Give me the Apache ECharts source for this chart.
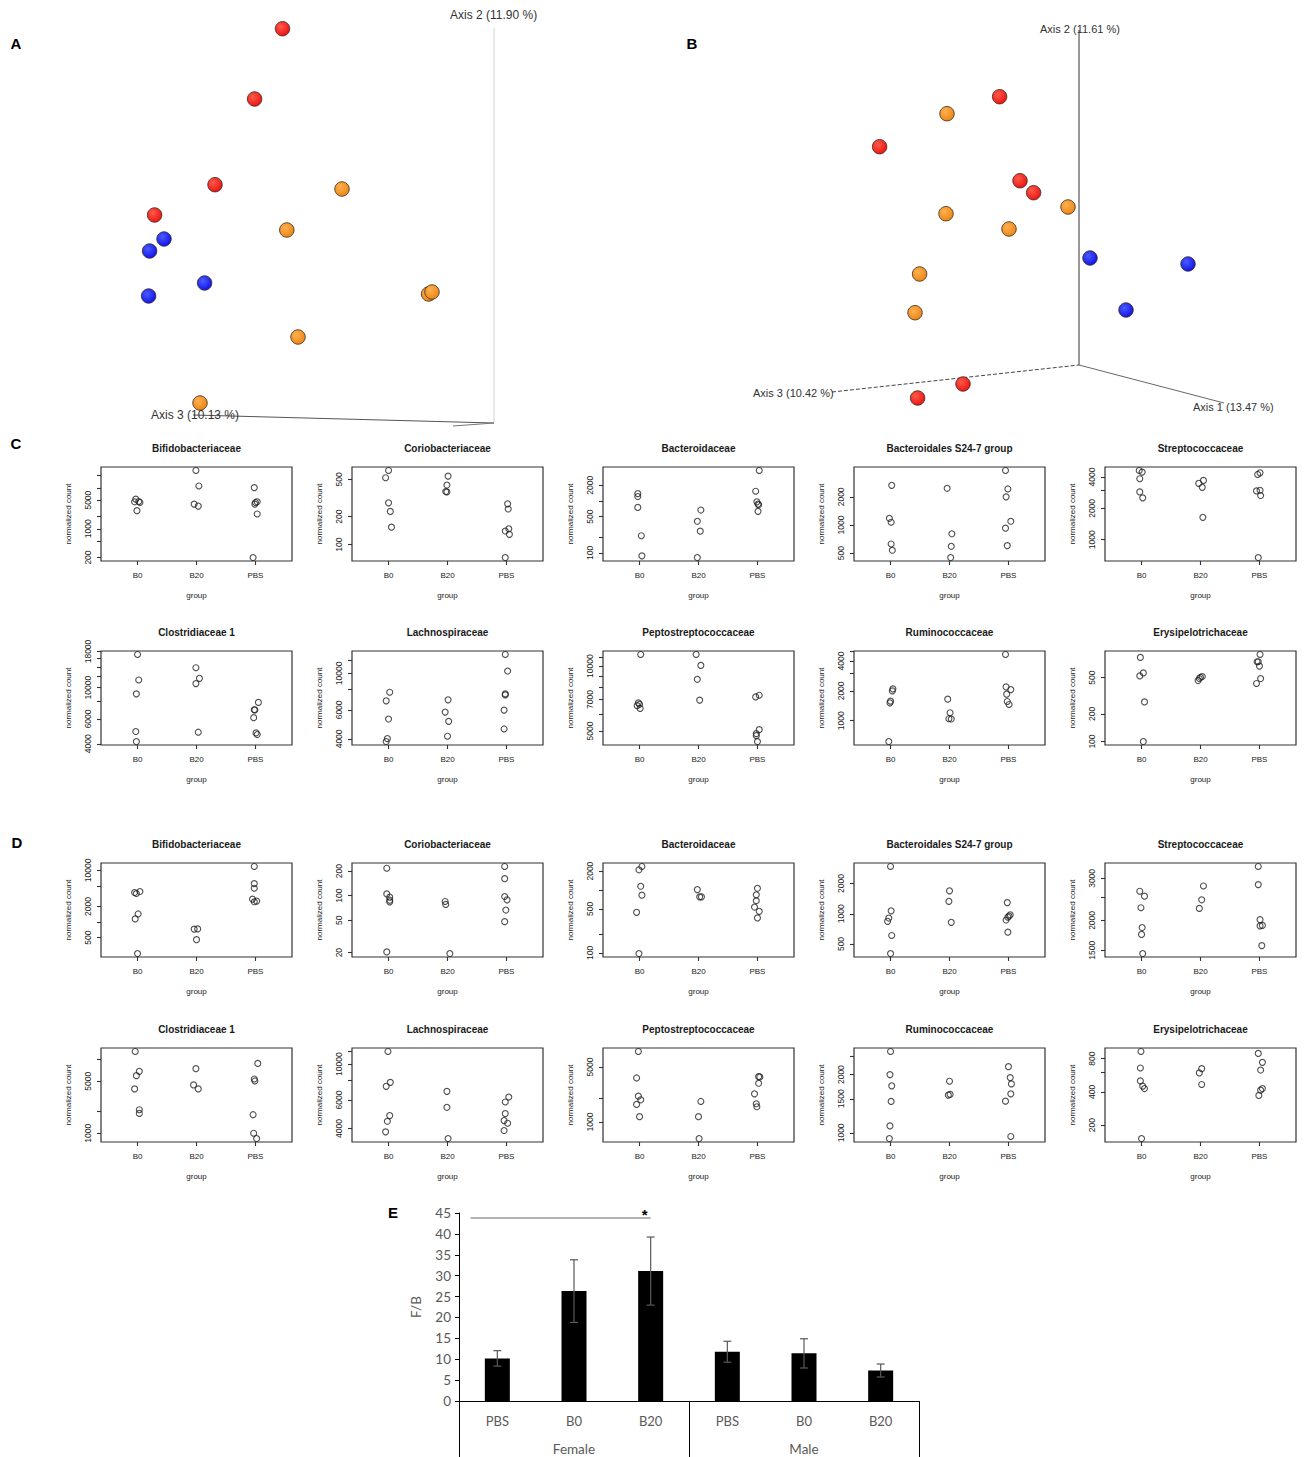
<!DOCTYPE html>
<html><head><meta charset="utf-8">
<script src="https://cdn.jsdelivr.net/npm/echarts@6.0.0/dist/echarts.min.js"></script>
<style>html,body{margin:0;padding:0;background:#fff}#c{width:1306px;height:1457px}</style>
</head><body><div id="c"></div>
<script>
// ---------- Panel A / B : PCoA 3D views (projected screen units of each view) ----------
const A_red    = [[282.5,28.7],[254.6,99],[215,184.7],[154.6,215]];
const A_blue   = [[164,239],[149.6,251],[204.6,283],[148.6,296]];
const A_orange = [[342,189],[286.8,230],[428.6,294],[432,292],[298,337],[200,403]];
const A_axis2  = [[494,28],[494,423]];
const A_axis3  = [[193,415],[494,423]];
const A_axis1  = [[453,426],[494,423]];
const A_axisLabels = ['Axis 2 (11.90 %)','Axis 3 (10.13 %)'];

const B_red    = [[319.6,96.7],[199.6,146.7],[340,180.7],[353.6,192.7],[283,384],[237.6,398]];
const B_orange = [[267,113.7],[266,213.7],[329,229],[388,207],[239.6,274],[235,312.7]];
const B_blue   = [[410,258],[508,264],[446,310]];
const B_axis2  = [[399,30],[399,365]];
const B_axis3  = [[152,392],[399,365]];
const B_axis1  = [[399,365],[544,403]];
const B_axisLabels = ['Axis 2 (11.61 %)','Axis 3 (10.42 %)','Axis 1 (13.47 %)'];

// ---------- Panels C / D : normalized counts, [jittered group position, count] ----------
const GROUPS = ['B0','B20','PBS'];
const FAMILIES = ['Bifidobacteriaceae','Coriobacteriaceae','Bacteroidaceae','Bacteroidales S24-7 group','Streptococcaceae',
                  'Clostridiaceae 1','Lachnospiraceae','Peptostreptococcaceae','Ruminococcaceae','Erysipelotrichaceae'];

const C1_pts = [[0.97,5280],[1.04,4390],[0.95,4560],[1.02,4640],[0.99,2770],[1.99,26400],[2.04,11070],[1.96,4000],[2.03,3580],[2.98,10100],[3.00,4390],[3.03,4560],[2.99,4000],[3.03,2300],[2.96,200]];
const C1_ticks = [200,500,1000,2000,5000,10000,20000], C1_labels = [200,1000,5000];
const C2_pts = [[1.0,624],[0.95,522],[1.0,281],[1.03,227],[1.05,154],[2.01,543],[1.99,436],[1.97,371],[1.99,368],[3.02,274],[3.03,241],[3.04,148],[2.98,140],[3.05,129],[2.98,72.8]];
const C2_ticks = [100,200,500], C2_labels = [100,200,500];
const C3_pts = [[0.97,1387],[0.97,1216],[0.97,751],[1.03,214],[1.04,87.7],[2.04,668],[1.98,406],[2.03,262],[1.98,81.5],[3.03,3857],[2.97,1537],[2.99,962],[3.02,844],[3.01,870],[3.01,630]];
const C3_ticks = [100,200,500,1000,2000], C3_labels = [100,500,2000];
const C4_pts = [[1.02,2657],[0.98,1181],[1.01,1072],[1.01,628],[1.03,538],[1.96,2470],[2.04,807],[2.03,593],[2.02,450],[2.95,3828],[2.99,2430],[2.96,2000],[3.04,1098],[2.95,926],[2.98,603]];
const C4_ticks = [500,1000,2000], C4_labels = [500,1000,2000];
const C5_pts = [[0.96,4630],[1.01,4465],[0.97,3856],[0.97,2880],[1.02,2525],[1.97,3483],[2.05,3717],[2.03,3190],[2.04,1642],[2.97,4240],[3.01,4395],[2.95,2944],[3.01,2987],[3.02,2660],[2.98,674]];
const C5_ticks = [1000,2000,3000,4000], C5_labels = [1000,2000,4000];
const C6_pts = [[1.0,17150],[1.02,11320],[0.98,9025],[0.97,4885],[0.98,4150],[1.99,13820],[2.05,11630],[1.99,10670],[2.03,4830],[3.05,7850],[2.98,6970],[2.99,6950],[2.97,6120],[3.01,4777],[3.03,4650]];
const C6_ticks = [4000,6000,8000,10000,12000,14000,16000,18000], C6_labels = [4000,6000,10000,18000];
const C7_pts = [[1.02,7680],[0.96,6810],[1.0,5280],[0.98,4018],[0.96,3855],[2.01,6905],[1.96,5820],[2.02,5110],[2.0,4150],[2.98,13020],[3.02,10330],[2.98,7505],[2.98,7400],[2.96,5980],[2.96,4595]];
const C7_ticks = [4000,6000,8000,10000,12000], C7_labels = [4000,6000,10000];
const C8_pts = [[1.02,11320],[0.98,6750],[1.0,6650],[0.96,6550],[1.01,6360],[1.96,11320],[2.04,10070],[1.98,8683],[2.02,6950],[2.97,7195],[3.03,7322],[3.03,5070],[2.98,4860],[2.98,4755],[3.0,4465]];
const C8_ticks = [5000,6000,7000,8000,9000,10000,11000], C8_labels = [5000,7000,10000];
const C9_pts = [[1.04,2094],[1.03,2000],[1.0,1576],[0.99,1515],[0.97,616],[1.97,1650],[2.01,1203],[1.99,1047],[2.03,1040],[2.95,4665],[2.96,2193],[3.04,2063],[2.97,1853],[2.98,1563],[3.01,1458]];
const C9_ticks = [1000,2000,3000,4000,5000], C9_labels = [1000,2000,4000];
const C10_pts = [[0.98,830],[1.03,562],[0.97,521],[1.05,271],[1.03,100],[1.96,464],[1.98,488],[2.0,504],[2.03,513],[3.01,894],[2.96,745],[2.98,745],[3.0,668],[3.02,488],[2.95,431]];
const C10_ticks = [100,200,500], C10_labels = [100,200,500];

const D1_pts = [[0.98,3580],[1.04,3908],[0.95,3740],[1.01,1439],[0.96,1155],[1.0,247],[1.96,733],[2.02,740],[2.0,458],[2.98,11930],[2.98,5560],[2.98,4525],[2.95,2787],[2.98,2478],[3.02,2552]];
const D1_ticks = [500,1000,2000,5000,10000], D1_labels = [500,2000,10000];
const D2_pts = [[0.97,217],[0.97,105],[1.02,95.8],[1.02,88],[1.02,84],[0.97,20.4],[1.96,84.8],[1.97,78],[2.04,19.5],[2.97,228],[2.97,161.5],[2.97,97.6],[3.01,88.9],[2.99,66.6],[2.97,48]];
const D2_ticks = [20,50,100,200], D2_labels = [20,50,100,200];
const D3_pts = [[1.04,2370],[0.99,2099],[1.02,1148],[1.04,828],[0.95,442],[0.99,97.6],[1.98,1017],[2.02,780],[2.05,780],[3.0,1067],[2.98,838],[2.98,675],[2.95,536],[3.03,458],[3.0,360]];
const D3_ticks = [100,200,500,1000,2000], D3_labels = [100,500,2000];
const D4_pts = [[1.0,2960],[1.01,1070],[0.97,907],[0.95,841],[1.02,608],[1.0,402],[2.0,1694],[1.99,1331],[2.03,822],[2.98,1292],[3.03,978],[3.01,949],[2.99,925],[2.96,867],[2.99,656]];
const D4_ticks = [500,1000,2000], D4_labels = [500,1000,2000];
const D5_pts = [[0.97,2650],[1.05,2527],[0.99,2260],[1.01,1867],[1.0,1747],[1.02,1453],[2.05,2788],[2.02,2440],[1.98,2246],[2.98,3365],[2.98,2825],[3.01,2015],[3.01,1898],[3.05,1905],[3.04,1568]];
const D5_ticks = [1500,2000,2500,3000], D5_labels = [1500,2000,3000];
const D6_pts = [[0.96,12585],[1.03,6801],[0.98,5953],[0.95,3950],[1.03,2071],[1.03,1850],[1.99,7385],[1.95,4467],[2.03,3950],[3.04,8697],[2.98,5372],[2.99,5050],[2.96,1775],[2.97,1000],[3.02,849]];
const D6_ticks = [1000,2000,5000,10000], D6_labels = [1000,5000];
const D7_pts = [[0.99,11970],[1.03,7715],[0.96,7290],[1.02,4809],[0.98,4436],[0.95,3816],[1.99,6788],[1.99,5412],[2.01,3471],[3.04,6265],[2.98,5836],[2.98,4950],[2.96,4480],[3.02,4314],[2.96,3890]];
const D7_ticks = [4000,6000,8000,10000,12000], D7_labels = [4000,6000,10000];
const D8_pts = [[0.98,7886],[0.95,3631],[0.98,2130],[1.02,1915],[0.95,1672],[1.0,1168],[2.04,1824],[2.0,1168],[2.01,616],[3.02,3775],[3.04,3740],[3.02,3109],[2.95,2280],[2.98,1705],[2.99,1562]];
const D8_ticks = [1000,2000,5000], D8_labels = [1000,5000];
const D9_pts = [[1.0,2634],[0.99,2000],[1.02,1750],[1.01,1454],[0.99,1086],[0.98,935],[2.0,1849],[1.98,1567],[2.01,1580],[3.0,2198],[3.03,1930],[3.05,1791],[3.04,1591],[2.95,1459],[3.04,958]];
const D9_ticks = [1000,1500,2000,2500], D9_labels = [1000,1500,2000];
const D10_pts = [[0.99,927],[0.98,657],[0.98,502],[1.02,450],[1.05,428],[1.0,151],[2.02,648],[1.98,593],[2.02,466],[2.98,890],[3.05,739],[3.02,630],[3.05,428],[3.02,414],[2.99,371]];
const D10_ticks = [200,400,600,800], D10_labels = [200,400,800];

// ---------- Panel E : F/B ratio ----------
const E_categories = ['PBS','B0','B20','PBS','B0','B20'];
const E_groups = ['Female','Male'];
const E_mean = [10.2, 26.3, 31.1, 11.8, 11.4, 7.3];
const E_err  = [1.85, 7.5, 8.15, 2.5, 3.5, 1.55];
const E_sigSpan = [0, 2];
const E_sigY = 43.8;
const E_yTicks = [0, 45, 5]; // min, max, interval

// ---------- layout ----------
const FONT = 'Liberation Sans';
const ROW_TOP = [467, 651, 863, 1048];
const COL_LEFT = [101, 352, 603, 854, 1105];
const BOX_W = 191, BOX_H = 94;
const TXT = '#1a1a1a';

const PANELS = [
  [C1_pts,C1_ticks,C1_labels],[C2_pts,C2_ticks,C2_labels],[C3_pts,C3_ticks,C3_labels],[C4_pts,C4_ticks,C4_labels],[C5_pts,C5_ticks,C5_labels],
  [C6_pts,C6_ticks,C6_labels],[C7_pts,C7_ticks,C7_labels],[C8_pts,C8_ticks,C8_labels],[C9_pts,C9_ticks,C9_labels],[C10_pts,C10_ticks,C10_labels],
  [D1_pts,D1_ticks,D1_labels],[D2_pts,D2_ticks,D2_labels],[D3_pts,D3_ticks,D3_labels],[D4_pts,D4_ticks,D4_labels],[D5_pts,D5_ticks,D5_labels],
  [D6_pts,D6_ticks,D6_labels],[D7_pts,D7_ticks,D7_labels],[D8_pts,D8_ticks,D8_labels],[D9_pts,D9_ticks,D9_labels],[D10_pts,D10_ticks,D10_labels]
];

// R's default axis range: data range extended by 4% (in log space for log axes)
function rRange(pts){
  const ls = pts.map(p => Math.log10(p[1]));
  const lo = Math.min(...ls), hi = Math.max(...ls), r = hi - lo;
  return [Math.pow(10, lo - 0.04*r), Math.pow(10, hi + 0.04*r)];
}

const grids = [], xAxes = [], yAxes = [], series = [], gfx = [];

function ball(c1, c2){
  return {type:'radial', x:0.38, y:0.35, r:0.75, colorStops:[{offset:0,color:c1},{offset:1,color:c2}]};
}
function addPcoa(left, width, pts, lines, lineStyles){
  const gi = grids.length;
  grids.push({left:left, top:0, width:width, height:430, show:false});
  xAxes.push({gridIndex:gi, type:'value', min:0, max:width, show:false});
  yAxes.push({gridIndex:gi, type:'value', min:0, max:430, inverse:true, show:false});
  lines.forEach((l, i) => series.push({type:'line', xAxisIndex:gi, yAxisIndex:gi, data:l, symbol:'none', silent:true,
     lineStyle:lineStyles[i], z:1}));
  pts.forEach(([d, c1, c2]) => series.push({type:'scatter', xAxisIndex:gi, yAxisIndex:gi, data:d, symbolSize:14.5, silent:true, z:3,
     itemStyle:{color:ball(c1,c2), borderColor:'#3a2a20', borderWidth:0.8, opacity:1}}));
}
const RED = ['#ff5a4a','#e80c0c'], BLUE = ['#4a5cff','#0a0ae6'], ORANGE = ['#ffb050','#e8820e'];
addPcoa(0, 560, [[A_red,...RED],[A_blue,...BLUE],[A_orange,...ORANGE]],
  [A_axis2, A_axis3, A_axis1],
  [{color:'#d4d4d4', width:1}, {color:'#555', width:1}, {color:'#777', width:1}]);
addPcoa(680, 626, [[B_red,...RED],[B_blue,...BLUE],[B_orange,...ORANGE]],
  [B_axis2, B_axis3, B_axis1],
  [{color:'#333', width:1}, {color:'#444', width:1, type:[4,2]}, {color:'#666', width:1}]);

function txt(x, y, text, size, weight, align, color, family){
  gfx.push({type:'text', x:x, y:y, silent:true, z:10, style:{text:text, fontSize:size, fontWeight:weight||'normal',
    fontFamily:family||FONT, fill:color||TXT, align:align||'center', verticalAlign:'middle'}});
}
txt(450, 15, A_axisLabels[0], 12, 'normal', 'left', '#333');
txt(151, 415, A_axisLabels[1], 12, 'normal', 'left', '#333');
txt(1040, 29, B_axisLabels[0], 11, 'normal', 'left', '#333');
txt(753, 393, B_axisLabels[1], 11, 'normal', 'left', '#333');
txt(1193, 407, B_axisLabels[2], 11, 'normal', 'left', '#333');
txt(16, 43, 'A', 15, 'bold', 'center', '#000');
txt(692, 43, 'B', 15, 'bold', 'center', '#000');
txt(16, 443, 'C', 15, 'bold', 'center', '#000');
txt(17, 842, 'D', 15, 'bold', 'center', '#000');
txt(393, 1212, 'E', 15, 'bold', 'center', '#000');

PANELS.forEach((p, k) => {
  const [pts, ticks, labels] = p;
  const row = Math.floor(k / 5), col = k % 5;
  const left = COL_LEFT[col], top = ROW_TOP[row];
  const gi = grids.length;
  const rng = rRange(pts);
  grids.push({left:left, top:top, width:BOX_W, height:BOX_H, show:true, borderColor:'#333', borderWidth:1.2, backgroundColor:'rgba(0,0,0,0)'});
  xAxes.push({gridIndex:gi, type:'value', min:0.38, max:3.62,
    axisLine:{show:false}, splitLine:{show:false},
    axisTick:{show:true, customValues:[1,2,3], length:4, lineStyle:{color:'#333', width:1.1}},
    axisLabel:{show:true, customValues:[1,2,3], formatter:v => GROUPS[Math.round(v)-1], fontSize:8, color:TXT, margin:10, fontFamily:FONT},
    name:'group', nameLocation:'middle', nameGap:30, nameTextStyle:{fontSize:8, color:TXT, fontFamily:FONT}});
  yAxes.push({gridIndex:gi, type:'log', logBase:10, min:rng[0], max:rng[1],
    axisLine:{show:false}, splitLine:{show:false}, minorTick:{show:false},
    axisTick:{show:true, customValues:ticks, length:4, lineStyle:{color:'#333', width:1.1}},
    axisLabel:{show:true, customValues:labels, rotate:90, formatter:v => String(Math.round(v)), fontSize:8.5, color:TXT, margin:9, fontFamily:FONT},
    name:'normalized count', nameLocation:'middle', nameGap:29, nameTextStyle:{fontSize:8, color:TXT, fontFamily:FONT}});
  series.push({type:'scatter', xAxisIndex:gi, yAxisIndex:gi, data:pts, symbol:'circle', symbolSize:6, silent:true,
    itemStyle:{color:'rgba(0,0,0,0)', borderColor:'#222', borderWidth:1.1}});
  txt(left + BOX_W/2, top - 19, FAMILIES[k % 10], 10, 'bold', 'center', TXT);
});

// ---------- Panel E ----------
const EF = 'Lato';
const gE = grids.length;
grids.push({left:459, top:1213, width:460, height:188, show:false});
xAxes.push({gridIndex:gE, type:'category', data:E_categories.map((c,i)=>E_groups[i<3?0:1]+' '+c),
  axisLine:{show:true, lineStyle:{color:'#000', width:1}}, axisTick:{show:false},
  axisLabel:{formatter:(v,i)=>E_categories[i], fontSize:13, color:'#595959', margin:13, fontFamily:EF, interval:0}});
yAxes.push({gridIndex:gE, type:'value', min:E_yTicks[0], max:E_yTicks[1], interval:E_yTicks[2],
  axisLine:{show:true, lineStyle:{color:'#000', width:1}}, axisTick:{show:true, length:4, lineStyle:{color:'#000'}},
  splitLine:{show:false}, axisLabel:{fontSize:13.5, color:'#595959', margin:8, fontFamily:EF},
  name:'F/B', nameLocation:'middle', nameGap:36, nameTextStyle:{fontSize:13.5, color:'#595959', fontFamily:EF}});
series.push({type:'bar', xAxisIndex:gE, yAxisIndex:gE, data:E_mean, barWidth:25, silent:true, itemStyle:{color:'#000'}});
series.push({type:'custom', xAxisIndex:gE, yAxisIndex:gE, silent:true, z:5,
  data:E_mean.map((m,i)=>[i, m, E_err[i]]), encode:{x:0, y:1},
  renderItem:(params, api) => {
    const i = api.value(0), m = api.value(1), e = api.value(2);
    const a = api.coord([i, m + e]), b = api.coord([i, m - e]);
    const cap = 4, st = {stroke:'#595959', lineWidth:1.2};
    return {type:'group', children:[
      {type:'line', shape:{x1:a[0], y1:a[1], x2:b[0], y2:b[1]}, style:st},
      {type:'line', shape:{x1:a[0]-cap, y1:a[1], x2:a[0]+cap, y2:a[1]}, style:st},
      {type:'line', shape:{x1:b[0]-cap, y1:b[1], x2:b[0]+cap, y2:b[1]}, style:st}
    ]};
  }});
series.push({type:'custom', xAxisIndex:gE, yAxisIndex:gE, silent:true, z:5,
  data:[[E_sigSpan[0], E_sigSpan[1], E_sigY]], encode:{x:[0,1], y:2},
  renderItem:(params, api) => {
    const band = api.size([1, 0])[0];
    const p0 = api.coord([api.value(0), api.value(2)]), p1 = api.coord([api.value(1), api.value(2)]);
    return {type:'group', children:[
      {type:'line', shape:{x1:p0[0] - 0.35*band, y1:p0[1], x2:p1[0], y2:p1[1]}, style:{stroke:'#666', lineWidth:1}},
      {type:'text', x:p1[0]-6, y:p1[1]-4, style:{text:'*', fontSize:15, fontWeight:'bold', fill:'#000', align:'center', verticalAlign:'middle', fontFamily:FONT}}
    ]};
  }});
// second-level category axis (Female / Male)
const gE2 = grids.length;
grids.push({left:459, top:1213, width:460, height:188, show:false});
xAxes.push({gridIndex:gE2, type:'category', data:E_groups,
  axisLine:{show:false}, axisTick:{show:true, length:56, lineStyle:{color:'#000', width:1}},
  axisLabel:{fontSize:13.5, color:'#595959', margin:41, fontFamily:EF}});
yAxes.push({gridIndex:gE2, type:'value', min:0, max:1, show:false});

const chart = echarts.init(document.getElementById('c'), null, {renderer:'svg'});
chart.setOption({
  animation:false,
  backgroundColor:'#fff',
  textStyle:{fontFamily:FONT},
  grid:grids, xAxis:xAxes, yAxis:yAxes, series:series,
  graphic:{elements:gfx}
});
</script></body></html>
